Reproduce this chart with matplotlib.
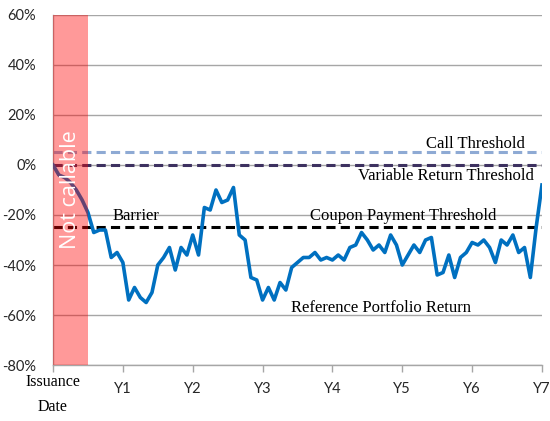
import matplotlib
matplotlib.use("Agg")
import matplotlib.pyplot as plt
import numpy as np

# monthly reference portfolio return (%), month 0 = issuance date
ref_return = [0, -4, -5, -7, -10, -14, -19, -27, -26, -26, -37, -35,
              -39, -54, -49, -53, -55, -51, -40, -37, -33, -42, -33, -36,
              -28, -36, -17, -18, -10, -15, -14, -9, -28, -30, -45, -46,
              -54, -49, -54, -47, -50, -41, -39, -37, -37, -35, -38, -37,
              -38, -36, -38, -33, -32, -27, -30, -34, -32, -35, -28, -32,
              -40, -36, -32, -35, -30, -29, -44, -43, -36, -45, -37, -35,
              -31, -32, -30, -33, -39, -30, -32, -28, -35, -33, -45, -25,
              -8]
months = np.arange(len(ref_return))
years = months / 12

call_threshold = 5
variable_threshold = 0
coupon_threshold = -25
not_callable_end = 0.5

tick_pos = [0, 1, 2, 3, 4, 5, 6, 7]
tick_labels = ["", "Y1", "Y2", "Y3", "Y4", "Y5", "Y6", "Y7"]
y_ticks = [60, 40, 20, 0, -20, -40, -60, -80]

fig = plt.figure(figsize=(5.5, 4.21), dpi=100)
ax = fig.add_axes([0.0964, 0.133, 0.889, 0.8314])

for v in y_ticks:
    ax.axhline(v, color="#a6a6a6", lw=1, zorder=1)

dash = (3, 1.7)
ax.axhline(call_threshold, color="#8eaad4", lw=2.2, ls=(0, dash), zorder=2)
ax.axhline(variable_threshold, color="#3d3160", lw=2.2, ls=(0, dash), zorder=2)
ax.axhline(coupon_threshold, color="black", lw=2.2, ls=(0, dash), zorder=2)

ax.plot(years, ref_return, color="#0070c0", lw=2.6, zorder=3)

ax.axvspan(0, not_callable_end, color="#ff0000", alpha=0.4, lw=0, zorder=4)
ax.text(not_callable_end / 2, -10, "Not callable", rotation=90, color="white",
        fontsize=15.5, family="Open Sans", ha="center", va="center", zorder=5)

serif = "Liberation Serif"
fs = 12
ax.text(6.76, 6.8, "Call Threshold", family=serif, fontsize=fs, ha="right", va="baseline")
ax.text(5.63, -6, "Variable Return Threshold", family=serif, fontsize=fs, ha="center", va="baseline")
ax.text(5.02, -22, "Coupon Payment Threshold", family=serif, fontsize=fs, ha="center", va="baseline")
ax.text(1.19, -22, "Barrier", family=serif, fontsize=fs, ha="center", va="baseline")
ax.text(4.69, -58.8, "Reference Portfolio Return", family=serif, fontsize=fs, ha="center", va="baseline")

ax.set_xlim(0, 7)
ax.set_ylim(-80, 60)
ax.set_yticks(y_ticks)
ax.set_yticklabels([f"{v}%" for v in y_ticks])
ax.set_xticks(tick_pos)
ax.set_xticklabels(tick_labels)
ax.tick_params(axis="y", length=0, pad=12, labelsize=10.5, labelcolor="#262626")
ax.tick_params(axis="x", length=5, width=1, color="#a6a6a6", pad=7,
               labelsize=10.5, labelcolor="#262626")
for lab in ax.get_xticklabels() + ax.get_yticklabels():
    lab.set_family("Lato")
ax.text(0, -83.6, "Issuance\nDate", family=serif, fontsize=11.5, ha="center", va="top",
        linespacing=1.75)

for s in ["top", "right"]:
    ax.spines[s].set_visible(False)
for s in ["left", "bottom"]:
    ax.spines[s].set_color("#a6a6a6")
    ax.spines[s].set_linewidth(1)

fig.savefig("out.png", dpi=100)
